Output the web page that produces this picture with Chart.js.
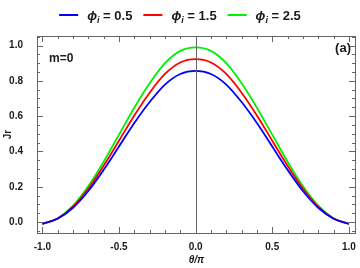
<!DOCTYPE html>
<html>
<head>
<meta charset="utf-8">
<script src="https://cdn.jsdelivr.net/npm/chart.js@4.4.1/dist/chart.umd.min.js"></script>
<style>
  html, body { margin: 0; padding: 0; background: #fff; }
  #wrap { width: 360px; height: 268px; }
</style>
</head>
<body>
<div id="wrap"><canvas id="jr" width="360" height="268"></canvas></div>
<script>
// theta / pi
const theta = [-1.0, -0.9, -0.8, -0.7, -0.6, -0.5, -0.4, -0.3, -0.2, -0.1, 0.0,
                0.1,  0.2,  0.3,  0.4,  0.5,  0.6,  0.7,  0.8,  0.9, 1.0];

const phiValues = ['0.5', '1.5', '2.5'];
const lineColors = ['#0000ff', '#ff0000', '#00f000'];

// Jr
const jrPhi05 = [-0.01, 0.019, 0.081, 0.176, 0.296, 0.428, 0.561, 0.680, 0.779, 0.839, 0.857,
                  0.839, 0.779, 0.680, 0.561, 0.428, 0.296, 0.176, 0.081, 0.019, -0.01];
const jrPhi15 = [-0.01, 0.020, 0.087, 0.190, 0.319, 0.461, 0.604, 0.733, 0.839, 0.904, 0.923,
                  0.904, 0.839, 0.733, 0.604, 0.461, 0.319, 0.190, 0.087, 0.020, -0.01];
const jrPhi25 = [-0.01, 0.022, 0.093, 0.204, 0.342, 0.495, 0.648, 0.786, 0.900, 0.970, 0.990,
                  0.970, 0.900, 0.786, 0.648, 0.495, 0.342, 0.204, 0.093, 0.022, -0.01];

const xTicks = [-1.0, -0.5, 0.0, 0.5, 1.0];
const yTicks = [0.0, 0.2, 0.4, 0.6, 0.8, 1.0];

const FONT = '"Liberation Sans", Arial, sans-serif';
const FRAME = '#666666';
const TEXT = '#1a1a1a';

const series = [jrPhi05, jrPhi15, jrPhi25];

const datasets = series.map((vals, i) => ({
    label: phiValues[i],
    data: theta.map((t, k) => ({ x: t, y: vals[k] })),
    borderColor: lineColors[i],
    borderWidth: 1.8,
    pointRadius: 0,
    cubicInterpolationMode: 'monotone',
    fill: false
}));

// frame, inward ticks, legend and labels
const decorations = {
    id: 'decorations',
    afterDatasetsDraw(chart) {
        const { ctx, chartArea: a, scales: { x, y } } = chart;
        ctx.save();
        ctx.strokeStyle = FRAME;
        ctx.lineWidth = 1;

        // zero line
        const x0 = Math.round(x.getPixelForValue(0)) + 0.5;
        ctx.beginPath();
        ctx.moveTo(x0, a.top);
        ctx.lineTo(x0, a.bottom);
        ctx.stroke();

        // frame
        ctx.strokeRect(Math.round(a.left) + 0.5, Math.round(a.top) + 0.5,
                       Math.round(a.right - a.left), Math.round(a.bottom - a.top));

        ctx.beginPath();
        for (let i = -10; i <= 10; i++) {
            const v = i / 10;
            const len = (i % 5 === 0) ? 6 : 3;
            const px = Math.round(x.getPixelForValue(v)) + 0.5;
            ctx.moveTo(px, a.bottom); ctx.lineTo(px, a.bottom - len);
            ctx.moveTo(px, a.top); ctx.lineTo(px, a.top + len);
        }
        for (let i = -1; i <= 21; i++) {
            const v = i / 20;
            if (v > y.max || v < y.min) continue;
            const len = (i % 4 === 0) ? 6 : 3;
            const py = Math.round(y.getPixelForValue(v)) + 0.5;
            ctx.moveTo(a.left, py); ctx.lineTo(a.left + len, py);
            ctx.moveTo(a.right, py); ctx.lineTo(a.right - len, py);
        }
        ctx.stroke();

        // panel texts
        ctx.fillStyle = TEXT;
        ctx.textBaseline = 'alphabetic';
        ctx.font = 'bold 12px ' + FONT;
        ctx.textAlign = 'left';
        ctx.fillText('m=0', 49, 62);
        ctx.textAlign = 'right';
        ctx.font = 'bold 13px ' + FONT;
        ctx.fillText('(a)', 351, 52);

        // axis titles
        ctx.textAlign = 'center';
        ctx.font = 'italic bold 10px ' + FONT;
        ctx.fillText('\u03b8/\u03c0', x0, 263);
        ctx.save();
        ctx.translate(11, (a.top + a.bottom) / 2);
        ctx.rotate(-Math.PI / 2);
        ctx.font = 'bold 10px ' + FONT;
        ctx.fillText('Jr', 0, 0);
        ctx.restore();

        // legend
        const phiFont = 'italic bold 13px ' + FONT;
        const subFont = 'italic bold 9px ' + FONT;
        const valFont = 'bold 13px ' + FONT;
        const lineW = 19, gapLine = 9, gapItem = 11;
        const items = chart.data.datasets.map(ds => {
            ctx.font = phiFont; const wPhi = ctx.measureText('\u03d5').width;
            ctx.font = subFont; const wSub = ctx.measureText('i').width;
            ctx.font = valFont; const wVal = ctx.measureText(' = ' + ds.label).width;
            return { ds, wPhi, wSub, wVal, w: lineW + gapLine + wPhi + wSub + wVal };
        });
        const total = items.reduce((s, it) => s + it.w, 0) + gapItem * (items.length - 1);
        let cx = 180 - total / 2;
        const ly = 15;
        ctx.textAlign = 'left';
        items.forEach(it => {
            ctx.strokeStyle = it.ds.borderColor;
            ctx.lineWidth = 2;
            ctx.beginPath();
            ctx.moveTo(cx, ly); ctx.lineTo(cx + lineW, ly);
            ctx.stroke();
            let tx = cx + lineW + gapLine;
            ctx.fillStyle = TEXT;
            ctx.font = phiFont; ctx.fillText('\u03d5', tx, ly + 5); tx += it.wPhi;
            ctx.font = subFont; ctx.fillText('i', tx, ly + 8); tx += it.wSub;
            ctx.font = valFont; ctx.fillText(' = ' + it.ds.label, tx, ly + 5);
            cx += it.w + gapItem;
        });
        ctx.restore();
    }
};

new Chart(document.getElementById('jr'), {
    type: 'line',
    data: { datasets: datasets },
    options: {
        responsive: false,
        devicePixelRatio: 1,
        animation: false,
        layout: { padding: { top: 36, right: 5, left: 0, bottom: 0 } },
        plugins: { legend: { display: false }, tooltip: { enabled: false } },
        scales: {
            x: {
                type: 'linear',
                min: -1.035,
                max: 1.04,
                afterBuildTicks: s => { s.ticks = xTicks.map(v => ({ value: v })); },
                afterFit: s => { s.height = 35; },
                grid: { display: false },
                border: { display: false },
                ticks: {
                    padding: 0,
                    color: TEXT,
                    font: { family: FONT, size: 10, weight: 'bold' },
                    maxRotation: 0,
                    callback: v => v.toFixed(1)
                }
            },
            y: {
                min: -0.062,
                max: 1.054,
                afterBuildTicks: s => { s.ticks = yTicks.map(v => ({ value: v })); },
                afterFit: s => { s.width = 37; },
                grid: { display: false },
                border: { display: false },
                ticks: {
                    padding: 6,
                    color: TEXT,
                    font: { family: FONT, size: 10, weight: 'bold' },
                    callback: v => v.toFixed(1)
                }
            }
        }
    },
    plugins: [decorations]
});
</script>
</body>
</html>
